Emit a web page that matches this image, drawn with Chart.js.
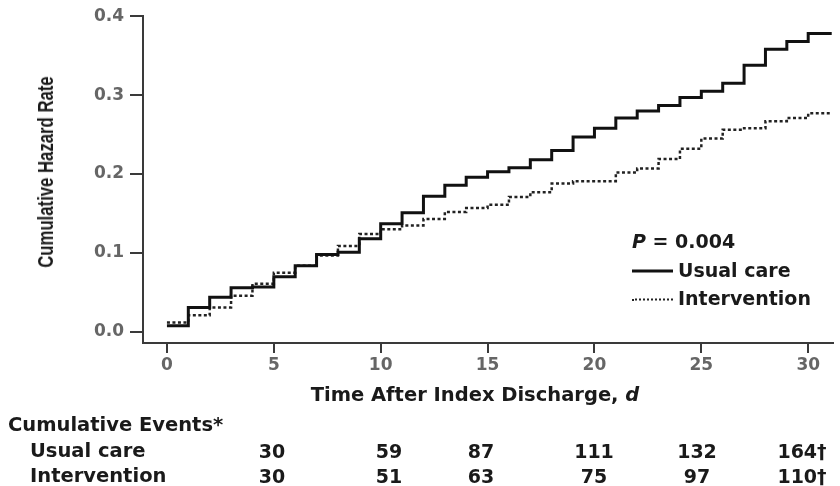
<!DOCTYPE html>
<html>
<head>
<meta charset="utf-8">
<script src="https://cdn.jsdelivr.net/npm/chart.js@4.4.1/dist/chart.umd.min.js"></script>
<style>
  body { margin: 0; background: #fff; }
  #wrap { position: relative; width: 840px; height: 486px; font-family: "DejaVu Sans", sans-serif; font-weight: 700; color: #1a1a1a; }
  canvas { position: absolute; left: 0; top: 0; }
  .txt { position: absolute; white-space: nowrap; line-height: 1; }
  .ytitle { font-family: "Liberation Sans", Arial, sans-serif; font-size: 22px; left: 46px; top: 172px; transform: translate(-50%, -50%) rotate(-90deg) scaleX(0.76); }
  .xtitle { font-size: 19.5px; left: 475px; top: 395px; transform: translate(-50%, -50%); }
  .leg { font-size: 19px; left: 632px; transform: translateY(-50%); }
  .leg .sw { display: inline-block; width: 41px; vertical-align: middle; margin-right: 5px; }
  .num { font-size: 19px; transform: translate(-50%, -50%); }
  .row { font-size: 19.5px; transform: translateY(-50%); }
</style>
</head>
<body>
<div id="wrap">
  <canvas id="chart" width="840" height="486"></canvas>
  <div class="txt ytitle">Cumulative Hazard Rate</div>
  <div class="txt xtitle">Time After Index Discharge, <i>d</i></div>
  <div class="txt leg" style="top:241px"><i>P</i> = 0.004</div>
  <div class="txt leg" style="top:270px"><span class="sw" style="border-top:3px solid #111"></span>Usual care</div>
  <div class="txt leg" style="top:298px"><span class="sw" style="border-top:2px dotted #222"></span>Intervention</div>
  <div class="txt row" style="left:8px;top:425px">Cumulative Events*</div>
  <div id="table"></div>
</div>
<script>
// Tage nach Entlassung und kumulative Hazardrate
const tage = [0, 1, 2, 3, 4, 5, 6, 7, 8, 9, 10, 11, 12, 13, 14, 15, 16, 17, 18, 19, 20, 21, 22, 23, 24, 25, 26, 27, 28, 29, 30];
const usualCare = [0.008, 0.031, 0.044, 0.056, 0.057, 0.070, 0.084, 0.098, 0.101, 0.118, 0.137, 0.151, 0.172, 0.186, 0.196, 0.203,
  0.208, 0.218, 0.230, 0.247, 0.258, 0.271, 0.280, 0.287, 0.297, 0.305, 0.315, 0.338, 0.358, 0.368, 0.378];
const intervention = [0.012, 0.021, 0.031, 0.046, 0.061, 0.075, 0.084, 0.097, 0.109, 0.124, 0.130, 0.135, 0.143, 0.152, 0.157, 0.161,
  0.171, 0.177, 0.188, 0.191, 0.191, 0.202, 0.207, 0.219, 0.232, 0.245, 0.256, 0.258, 0.267, 0.271, 0.277];
const endeBeobachtung = 31.1;

const xTicks = [0, 5, 10, 15, 20, 25, 30];
const yTicks = [0, 0.1, 0.2, 0.3, 0.4];

const tabelleZeilen = ["Usual care", "Intervention"];
const eventsUsual = ["30", "59", "87", "111", "132", "164†"];
const eventsIntervention = ["30", "51", "63", "75", "97", "110†"];

// Tabelle unter der Achse
const spaltenX = [272, 389, 481, 594, 697, 802];
const zeilenY = [451, 476];
const tab = document.getElementById("table");
[eventsUsual, eventsIntervention].forEach((werte, r) => {
  const lab = document.createElement("div");
  lab.className = "txt row";
  lab.style.left = "30px";
  lab.style.top = zeilenY[r] + "px";
  lab.textContent = tabelleZeilen[r];
  tab.appendChild(lab);
  werte.forEach((w, c) => {
    const d = document.createElement("div");
    d.className = "txt num";
    d.style.left = spaltenX[c] + "px";
    d.style.top = zeilenY[r] + "px";
    d.textContent = w;
    tab.appendChild(d);
  });
});

function punkte(werte) {
  const p = tage.map((t, i) => ({ x: t, y: werte[i] }));
  p.push({ x: endeBeobachtung, y: werte[werte.length - 1] });
  return p;
}

const achsenFarbe = "#3a3a3a";
const tickFont = { family: "'DejaVu Sans', sans-serif", size: 17, weight: "bold" };

new Chart(document.getElementById("chart"), {
  type: "line",
  data: {
    datasets: [
      {
        label: "Usual care",
        data: punkte(usualCare),
        borderColor: "#111",
        borderWidth: 3,
        stepped: "before",
        pointRadius: 0,
        fill: false
      },
      {
        label: "Intervention",
        data: punkte(intervention),
        borderColor: "#222",
        borderWidth: 2.5,
        borderDash: [3, 2.5],
        stepped: "before",
        pointRadius: 0,
        fill: false
      }
    ]
  },
  options: {
    responsive: false,
    animation: false,
    layout: { padding: { left: 0, top: 16, right: 7, bottom: 0 } },
    plugins: { legend: { display: false }, tooltip: { enabled: false } },
    scales: {
      x: {
        type: "linear",
        min: -1.12,
        max: 31.16,
        afterBuildTicks: s => { s.ticks = xTicks.map(v => ({ value: v })); },
        afterFit: s => { s.height = 143; },
        border: { display: true, color: achsenFarbe, width: 2 },
        grid: { drawOnChartArea: false, drawTicks: true, tickLength: 10, color: achsenFarbe, lineWidth: 2 },
        ticks: { color: "#666", font: tickFont, padding: 2, autoSkip: false, maxRotation: 0 }
      },
      y: {
        min: -0.014,
        max: 0.4,
        afterBuildTicks: s => { s.ticks = yTicks.map(v => ({ value: v })); },
        afterFit: s => { s.width = 143; },
        border: { display: true, color: achsenFarbe, width: 2 },
        grid: { drawOnChartArea: false, drawTicks: true, tickLength: 13, color: achsenFarbe, lineWidth: 2 },
        ticks: { color: "#666", font: tickFont, padding: 6, callback: v => v.toFixed(1) }
      }
    }
  }
});
</script>
</body>
</html>
